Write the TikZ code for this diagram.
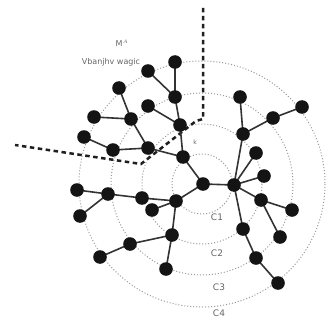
\documentclass[tikz,border=0pt]{standalone}
\usepackage{fontspec}
\setmainfont{DejaVu Sans}
\begin{document}
\begin{tikzpicture}[x=1pt,y=-1pt,
  nd/.style={circle,fill=black!92,inner sep=0pt,minimum size=13.6pt},
  ed/.style={draw=black!80,line width=1.6pt},
  ring/.style={draw=black!40,line width=1pt,dash pattern=on 1pt off 2pt},
  bound/.style={draw=black!88,line width=2.5pt,dash pattern=on 4.5pt off 3.5pt},
  lab/.style={text=black!60,font=\fontsize{8}{9}\selectfont,inner sep=0pt}]
\useasboundingbox (0,0) rectangle (325,326);
\fill[white] (0,0) rectangle (325,326);
% rings
\coordinate (c) at (202,184);
\foreach \r in {30,60,91,123} \draw[ring] (c) circle[radius=\r];
% boundary
\draw[bound] (203,8) -- (203,119) -- (196,121) -- (141,164) -- (15,145);
% nodes
\foreach \n/\x/\y in {h/234/185, a/203/184, b/183/157, d/180/125, e/175/97, f/175/62, g/148/71, i/148/106,
  j/148/148, k/131/119, l/119/88, m/94/117, n/113/150, o/84/137,
  p/176/201, q/142/198, r/108/194, s/77/190, t/80/216, u/152/210, v/172/235, w/130/244, x/100/257, y/166/269,
  z1/243/134, z2/240/97, z3/273/118, z4/302/107, z5/256/153, z6/264/176, z7/261/200, z8/292/210, z9/280/237,
  y1/243/229, y2/256/258, y3/278/283}
  \coordinate (\n) at (\x,\y);
\foreach \p/\q in {h/a, a/b, b/d, d/e, e/f, e/g, d/i, b/j, j/k, k/l, k/m, j/n, n/o,
  a/p, p/q, q/r, r/s, r/t, p/u, p/v, v/w, w/x, v/y,
  h/z1, z1/z2, z1/z3, z3/z4, h/z5, h/z6, h/z7, z7/z8, z7/z9, h/y1, y1/y2, y2/y3}
  \draw[ed] (\p) -- (\q);
\foreach \n in {h,a,b,d,e,f,g,i,j,k,l,m,n,o,p,q,r,s,t,u,v,w,x,y,z1,z2,z3,z4,z5,z6,z7,z8,z9,y1,y2,y3}
  \node[nd] (N\n) at (\n) {};
% labels
\node[lab] (t1) at (122,43) {M$^{\scriptscriptstyle A}$};
\node[lab] (t2) at (111,62) {Vbanjhv wagic};
\node[lab,font=\fontsize{6}{7}\selectfont] (tk) at (195,142) {k};
\node[lab,font=\fontsize{9}{10}\selectfont] (c1) at (217,217) {C1};
\node[lab,font=\fontsize{9}{10}\selectfont] (c2) at (217,253) {C2};
\node[lab,font=\fontsize{9}{10}\selectfont] (c3) at (219,287) {C3};
\node[lab,font=\fontsize{9}{10}\selectfont] (c4) at (219,313) {C4};
\end{tikzpicture}
\end{document}
